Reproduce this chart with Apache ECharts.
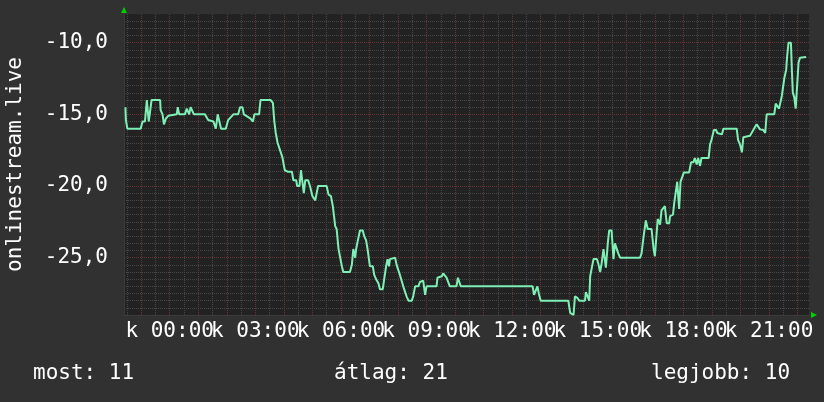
<!DOCTYPE html>
<html>
<head>
<meta charset="utf-8">
<script src="https://cdn.jsdelivr.net/npm/echarts@6/dist/echarts.min.js"></script>
<style>
  html, body { margin: 0; padding: 0; background: #313131; }
  #chart { width: 824px; height: 402px; }
</style>
</head>
<body>
<div id="chart"></div>
<script>
// minutes from 00:00 (negative = previous evening)
const minutes = [
  -93, -92, -89, -61, -57, -52, -48, -46, -44, -41,
  -38, -20, -19, -15, -12, -8, -3, 15, 17, 20,
  32, 36, 41, 44, 48, 51, 74, 81, 92, 97,
  101, 104, 108, 118, 123, 134, 144, 148, 153, 156,
  170, 175, 178, 188, 191, 212, 217, 220, 223, 227,
  232, 237, 242, 248, 257, 260, 266, 268, 273, 276,
  280, 282, 285, 291, 295, 300, 306, 309, 312, 330,
  334, 339, 343, 348, 351, 355, 358, 362, 365, 379,
  383, 386, 390, 392, 395, 400, 406, 409, 413, 416,
  421, 427, 430, 434, 439, 442, 448, 451, 455, 458,
  461, 463, 474, 477, 484, 491, 495, 498, 502, 509,
  512, 516, 523, 526, 530, 533, 537, 540, 561, 563,
  572, 575, 579, 582, 586, 589, 603, 606, 609, 612,
  763, 766, 770, 773, 776, 780, 838, 842, 849, 852,
  857, 861, 873, 875, 879, 882, 884, 887, 891, 898,
  901, 905, 908, 912, 914, 917, 921, 924, 929, 933,
  936, 940, 943, 947, 989, 992, 996, 999, 1001, 1005,
  1013, 1017, 1020, 1024, 1026, 1029, 1031, 1034, 1038, 1041,
  1045, 1050, 1052, 1058, 1061, 1064, 1067, 1069, 1071, 1074,
  1078, 1081, 1092, 1096, 1101, 1104, 1108, 1111, 1115, 1118,
  1133, 1136, 1139, 1144, 1149, 1151, 1155, 1161, 1164, 1192,
  1195, 1199, 1203, 1206, 1220, 1224, 1227, 1231, 1234, 1237,
  1241, 1248, 1252, 1254, 1255, 1271, 1274, 1278, 1281, 1283,
  1287, 1290, 1292, 1296, 1298, 1301, 1306, 1308, 1310, 1313,
  1316, 1320, 1322, 1325, 1338
]
const values = [
  -14.5, -15.4, -16, -16, -15.5, -15.5, -14, -14, -15.5, -15.5,
  -14, -14, -14.7, -15, -15.7, -15.3, -15.1, -15, -14.5, -15,
  -15, -14.6, -15, -14.5, -14.5, -15, -15, -15.4, -15.5, -16,
  -15, -15, -16, -16, -15.4, -15, -15, -14.5, -14.5, -15,
  -15.3, -15.5, -15, -15, -14, -14, -14.2, -15.5, -16.3, -17,
  -17.5, -18, -18.9, -19, -19, -19.6, -19.6, -20, -20, -18.9,
  -18.9, -20.5, -19.6, -19.6, -20, -20.7, -21, -21, -20, -20,
  -20.6, -20.7, -21.4, -22.8, -23, -24.4, -24.4, -25.6, -26, -26,
  -25.5, -24.4, -25, -24.4, -23.9, -23.1, -23.1, -23.5, -23.8, -24.4,
  -25.6, -25.6, -26.2, -26.5, -26.8, -27.2, -27.2, -26.5, -25.6, -25.1,
  -25.6, -25.1, -25, -25.5, -26.2, -27, -27.1, -27.7, -28, -28,
  -27.7, -27, -27, -26.7, -26.8, -26.6, -27.6, -27, -27, -26.4,
  -26.3, -26.1, -26.1, -26.4, -26.4, -27, -27, -26.4, -26.4, -27,
  -27, -27.6, -27.6, -27, -27.5, -28, -28, -28.85, -29, -27.7,
  -27.8, -28, -28, -27.4, -27.4, -28, -26.3, -26.2, -25.1, -25.1,
  -25.4, -26, -25.4, -24.4, -24.4, -25.7, -24, -23.1, -23.1, -25.1,
  -24, -24, -24.7, -25, -25, -24.7, -23.6, -23.6, -22.4, -23,
  -23, -24.3, -24.9, -24.9, -22.3, -22.3, -22.7, -21.7, -21.7, -21.4,
  -22.6, -22.6, -22.1, -22, -21.1, -21.1, -19.7, -19.7, -21.6, -19.7,
  -19.6, -19.05, -19.05, -18.35, -18.35, -18.05, -18.5, -18.05, -18.6, -18.05,
  -18.05, -17.1, -16.8, -16.1, -16.1, -16.3, -16.2, -16.4, -16, -16,
  -16.8, -17.1, -17.65, -16.6, -16.5, -16.6, -16.1, -15.85, -15.7, -15.7,
  -16.05, -16.1, -16.3, -16.3, -15, -15, -14.25, -14.25, -14.6, -14.6,
  -13.7, -13.7, -12.5, -11.9, -10.95, -10, -10, -11.9, -13.5, -13.8,
  -14.6, -14.6, -11.4, -11.05, -11
]
const dayPrefix = 'k'
const yTitle = 'onlinestream.live'
const summary = ['most: 11', 'átlag: 21', 'legjobb: 10']

const mono = '"DejaVu Sans Mono", monospace'
const majorGrid = '#6a3434'
const minorGrid = '#474747'

const chart = echarts.init(document.getElementById('chart'))

function pad(n) {
  return (n < 10 ? '0' : '') + n
}

chart.setOption({
  backgroundColor: '#313131',
  animation: false,
  grid: {
    left: 124,
    right: 15,
    top: 14,
    bottom: 87,
    show: true,
    backgroundColor: '#222222',
    borderWidth: 0,
    outerBoundsMode: 'none'
  },
  xAxis: {
    type: 'value',
    min: -1.6,
    max: 22.4,
    splitNumber: 24,
    axisLine: { show: true, onZero: false, lineStyle: { color: '#3a3a3a', width: 1 } },
    axisTick: { show: false },
    axisLabel: {
      color: '#ffffff',
      fontFamily: mono,
      fontSize: 21,
      margin: 6,
      showMinLabel: false,
      showMaxLabel: false,
      formatter: function (v) {
        if (Math.abs(v - Math.round(v)) > 1e-6 || v < 0 || v % 3 !== 0) return ''
        return dayPrefix + ' ' + pad(v) + ':00'
      }
    },
    splitLine: {
      show: true,
      showMinLine: false,
      showMaxLine: false,
      lineStyle: { color: majorGrid, type: [1, 1], width: 1 }
    },
    minorTick: { show: false, splitNumber: 2 },
    minorSplitLine: {
      show: true,
      lineStyle: { color: minorGrid, type: [1, 1], width: 1 }
    }
  },
  yAxis: {
    type: 'value',
    min: -29,
    max: -8,
    splitNumber: 4,
    name: yTitle,
    nameLocation: 'middle',
    nameRotate: 90,
    nameGap: 98,
    nameTextStyle: { color: '#ffffff', fontFamily: mono, fontSize: 21 },
    axisLine: { show: true, onZero: false, lineStyle: { color: '#3a3a3a', width: 1 } },
    axisTick: { show: false },
    axisLabel: {
      color: '#ffffff',
      fontFamily: mono,
      fontSize: 21,
      margin: 16,
      showMinLabel: false,
      showMaxLabel: false,
      formatter: function (v) {
        if (v % 5 !== 0) return ''
        return v.toFixed(1).replace('.', ',')
      }
    },
    splitLine: {
      show: true,
      showMinLine: false,
      showMaxLine: false,
      lineStyle: { color: majorGrid, type: [1, 1], width: 1 }
    },
    minorTick: { show: false, splitNumber: 10 },
    minorSplitLine: {
      show: true,
      lineStyle: { color: minorGrid, type: [1, 1], width: 1 }
    }
  },
  graphic: [
    // axis arrows
    { type: 'polygon', shape: { points: [[121, 13], [127, 13], [124, 7]] }, style: { fill: '#00d000' } },
    { type: 'polygon', shape: { points: [[811, 312], [811, 318], [817, 315]] }, style: { fill: '#00d000' } },
    {
      type: 'text', left: 33, top: 363,
      style: { text: summary[0], fill: '#ffffff', font: '21px ' + mono }
    },
    {
      type: 'text', left: 334, top: 363,
      style: { text: summary[1], fill: '#ffffff', font: '21px ' + mono }
    },
    {
      type: 'text', left: 651, top: 363,
      style: { text: summary[2], fill: '#ffffff', font: '21px ' + mono }
    }
  ],
  series: [{
    type: 'line',
    data: minutes.map((m, i) => [m / 60, values[i]]),
    showSymbol: false,
    clip: true,
    lineStyle: { color: '#7ef0b6', width: 2 },
    z: 5
  }]
})
</script>
</body>
</html>
